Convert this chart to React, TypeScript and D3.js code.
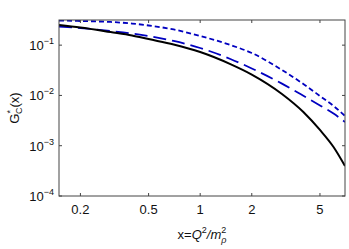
import * as d3 from 'd3';

// x values of the sampled curves (Q^2/m_rho^2)
const xs = [0.15, 0.2, 0.3, 0.4, 0.5, 0.7, 1, 1.5, 2, 3, 4, 5, 6, 7];
// G*_C(x)
const solidBlack = [0.252, 0.224, 0.182, 0.156, 0.132, 0.103, 0.073, 0.042, 0.026, 0.0107, 0.00469, 0.00206, 0.000944, 0.000395];
const longDashBlue = [0.235, 0.219, 0.191, 0.1705, 0.152, 0.121, 0.0877, 0.0531, 0.0344, 0.01714, 0.00984, 0.00631, 0.00437, 0.00296];
const shortDashBlue = [0.309, 0.302, 0.289, 0.269, 0.246, 0.205, 0.152, 0.1007, 0.0698, 0.0321, 0.0169, 0.00975, 0.00618, 0.00391];

const xTicks = [0.2, 0.5, 1, 2, 5];
const yTicks = [-4, -3, -2, -1]; // exponents of 10

export default function App() {
	const width = 349;
	const height = 249;
	const margin = { top: 20, right: 4, bottom: 53, left: 59 };
	const x0 = margin.left;
	const x1 = width - margin.right;
	const y0 = height - margin.bottom;
	const y1 = margin.top;

	const x = d3.scaleLog().domain([0.15, 7]).range([x0, x1]);
	const y = d3.scaleLog().domain([1e-4, Math.pow(10, -0.5)]).range([y0, y1]);

	const line = (vals: number[]) =>
		d3
			.line<number>()
			.x((_, i) => x(xs[i]))
			.y((d) => y(d))
			.curve(d3.curveMonotoneX)(vals) ?? '';

	const axisColor = '#444';
	const font = 'Liberation Sans, Arial, sans-serif';

	return (
		<svg
			width={width}
			height={height}
			style={{ position: 'absolute', left: 0, top: 0, background: '#fff' }}
			fontFamily={font}
		>
			<defs>
				<clipPath id='plot'>
					<rect x={x0} y={y1} width={x1 - x0} height={y0 - y1} />
				</clipPath>
			</defs>

			{/* curves */}
			<g clipPath='url(#plot)' fill='none'>
				<path d={line(shortDashBlue)} stroke='#0000c0' strokeWidth={1.8} strokeDasharray='5 3' />
				<path d={line(longDashBlue)} stroke='#0000c0' strokeWidth={1.8} strokeDasharray='13 6' />
				<path d={line(solidBlack)} stroke='#000' strokeWidth={2} />
			</g>

			{/* frame */}
			<rect x={x0} y={y1} width={x1 - x0} height={y0 - y1} fill='none' stroke={axisColor} strokeWidth={1} />

			{/* x ticks */}
			{xTicks.map((t) => (
				<g key={t}>
					<line x1={x(t)} x2={x(t)} y1={y0} y2={y0 - 3} stroke={axisColor} />
					<line x1={x(t)} x2={x(t)} y1={y1} y2={y1 + 3} stroke={axisColor} />
					<text x={x(t)} y={y0 + 18} fontSize={13} textAnchor='middle' fill='#111'>
						{t}
					</text>
				</g>
			))}

			{/* y ticks */}
			{yTicks.map((e) => (
				<g key={e}>
					<line x1={x0} x2={x0 + 3} y1={y(Math.pow(10, e))} y2={y(Math.pow(10, e))} stroke={axisColor} />
					<line x1={x1} x2={x1 - 3} y1={y(Math.pow(10, e))} y2={y(Math.pow(10, e))} stroke={axisColor} />
					<text x={x0 - 5} y={y(Math.pow(10, e)) + 5} fontSize={13} textAnchor='end' fill='#111'>
						10
						<tspan fontSize={9} dy={-6}>
							{'\u2212' + Math.abs(e)}
						</tspan>
					</text>
				</g>
			))}

			{/* x label */}
			<text x={(x0 + x1) / 2} y={239} fontSize={13} textAnchor='middle' fill='#111'>
				x=<tspan fontStyle='italic'>Q</tspan>
				<tspan fontSize={9} dy={-6}>2</tspan>
				<tspan dy={6} fontStyle='italic'>/m</tspan>
				<tspan fontSize={9} dy={-6}>2</tspan>
				<tspan fontSize={9} dx={-5} dy={10} fontStyle='italic'>ρ</tspan>
			</text>

			{/* y label */}
			<text transform={`translate(19,${(y0 + y1) / 2}) rotate(-90)`} fontSize={13} textAnchor='middle' fill='#111'>
				G<tspan fontSize={9} dy={-6}>*</tspan>
				<tspan fontSize={9} dx={-4} dy={9}>C</tspan>
				<tspan dy={-3}>(x)</tspan>
			</text>
		</svg>
	);
}
